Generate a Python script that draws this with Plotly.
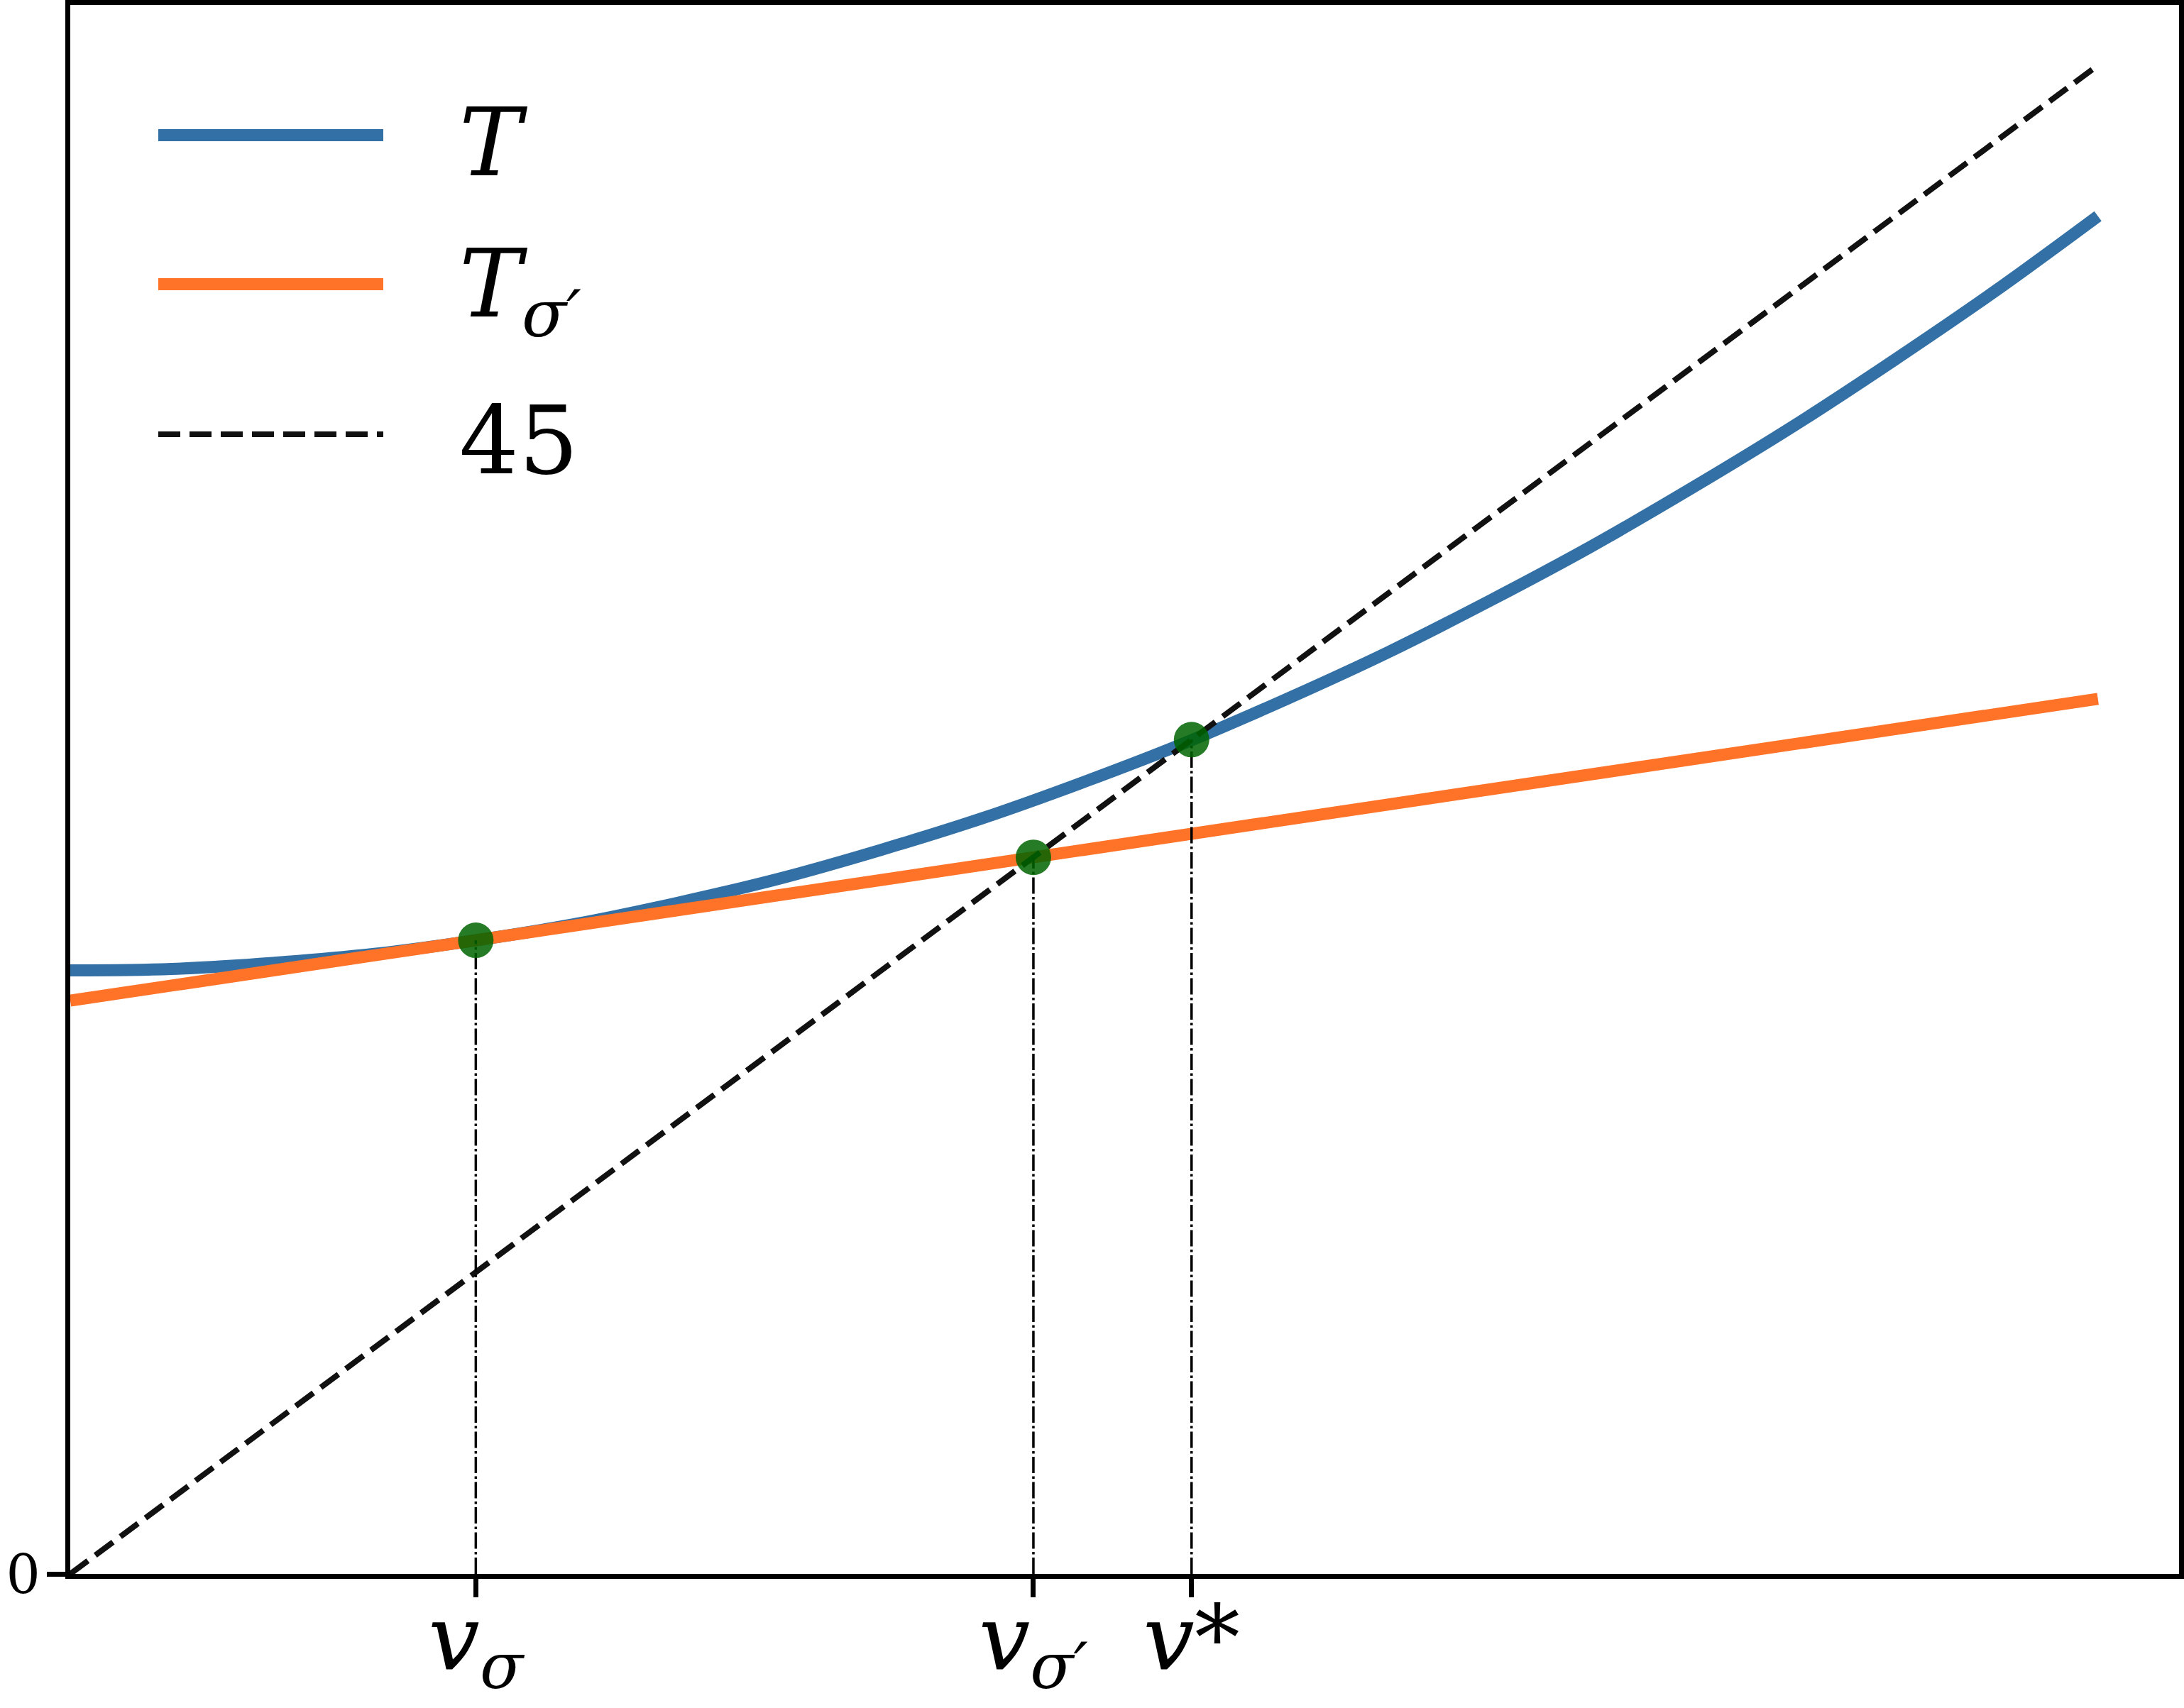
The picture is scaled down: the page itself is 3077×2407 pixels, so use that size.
import plotly.graph_objects as go

# ---------------- data ----------------
v_grid = [0.00, 0.05, 0.10, 0.15, 0.20, 0.25, 0.30, 0.35, 0.40, 0.45, 0.50,
          0.55, 0.60, 0.65, 0.70, 0.75, 0.80, 0.85, 0.90, 0.95, 1.00]
T_vals = [0.400, 0.401, 0.405, 0.411, 0.420, 0.431, 0.445, 0.461, 0.480, 0.501, 0.525,
          0.551, 0.580, 0.611, 0.645, 0.681, 0.720, 0.761, 0.805, 0.851, 0.900]

Tsig_x = [0.0, 1.0]
Tsig_y = [0.380, 0.580]

diag_x = [0.0, 1.0]
diag_y = [0.0, 1.0]

pts_x = [0.200, 0.475, 0.553]
pts_y = [0.420, 0.475, 0.553]

x_tick_labels = ["<i>v</i><sub><i>σ</i></sub>",
                 "<i>v</i><sub><i>σ′</i></sub>",
                 "<i>v</i>*"]
y_tick_vals = [0]
y_tick_labels = ["0"]

legend_labels = ["<i>T</i>", "<i>T</i><sub><i>σ′</i></sub>", "45"]

# ---------------- styling ----------------
W, H = 3077, 2407
ML, MR, MT, MB = 99, 7, 7, 189
PW = W - ML - MR
PH = H - MT - MB
BLUE = "#3370a5"
ORANGE = "#ff7328"
DARK = "#111111"
FONT = "DejaVu Serif"

def px_x(p):
    return (p - ML) / PW

def px_y(p):
    return (H - MB - p) / PH

fig = go.Figure()

fig.add_trace(go.Scatter(x=v_grid, y=T_vals, mode="lines", name="T",
                         line=dict(color=BLUE, width=17, shape="spline"),
                         showlegend=False, hoverinfo="skip"))
fig.add_trace(go.Scatter(x=Tsig_x, y=Tsig_y, mode="lines", name="T_sigma'",
                         line=dict(color=ORANGE, width=17),
                         showlegend=False, hoverinfo="skip"))
fig.add_trace(go.Scatter(x=diag_x, y=diag_y, mode="lines", name="45",
                         line=dict(color=DARK, width=8, dash="31px,13px"),
                         showlegend=False, hoverinfo="skip"))

vx, vy = [], []
for px_, py_ in zip(pts_x, pts_y):
    vx += [px_, px_, None]
    vy += [0, py_, None]
fig.add_trace(go.Scatter(x=vx, y=vy, mode="lines",
                         line=dict(color="black", width=3.5, dash="23px,4.5px,3.5px,4.5px"),
                         showlegend=False, hoverinfo="skip"))

fig.add_trace(go.Scatter(x=pts_x, y=pts_y, mode="markers",
                         marker=dict(size=50, color="rgba(0,100,0,0.85)",
                                     line=dict(width=0)),
                         showlegend=False, hoverinfo="skip"))

# ---------------- hand-built legend (long keys as in the reference) ----------------
key_x0, key_x1 = px_x(223), px_x(540)
key_rows = [190.5, 400.5, 612]
key_styles = [dict(color=BLUE, width=17), dict(color=ORANGE, width=17),
              dict(color=DARK, width=8, dash="31px,13px")]
for yy, st in zip(key_rows, key_styles):
    fig.add_shape(type="line", xref="paper", yref="paper",
                  x0=key_x0, x1=key_x1, y0=px_y(yy), y1=px_y(yy), line=st)

label_rows = [201, 410, 621]
for txt, yy in zip(legend_labels, label_rows):
    fig.add_annotation(text=txt, xref="paper", yref="paper", x=px_x(645), y=px_y(yy),
                       xanchor="left", yanchor="middle", showarrow=False,
                       font=dict(family=FONT, size=132, color="black"))

axis_common = dict(showline=True, linecolor="black", linewidth=7, mirror=True,
                   ticks="outside", ticklen=26, tickwidth=7, tickcolor="black",
                   showgrid=False, zeroline=False, automargin=False)

fig.update_xaxes(range=[0, 1.04], tickvals=pts_x, ticktext=x_tick_labels,
                 ticklabelstandoff=-52,
                 tickfont=dict(family=FONT, size=128, color="black"), **axis_common)
fig.update_yaxes(range=[0, 1.04], tickvals=y_tick_vals, ticktext=y_tick_labels,
                 ticklabelstandoff=-6,
                 tickfont=dict(family=FONT, size=76, color="black"), **axis_common)

fig.update_layout(width=W, height=H, margin=dict(l=ML, r=MR, t=MT, b=MB),
                  plot_bgcolor="white", paper_bgcolor="white", showlegend=False,
                  font=dict(family=FONT))

fig.write_html("out.html")
